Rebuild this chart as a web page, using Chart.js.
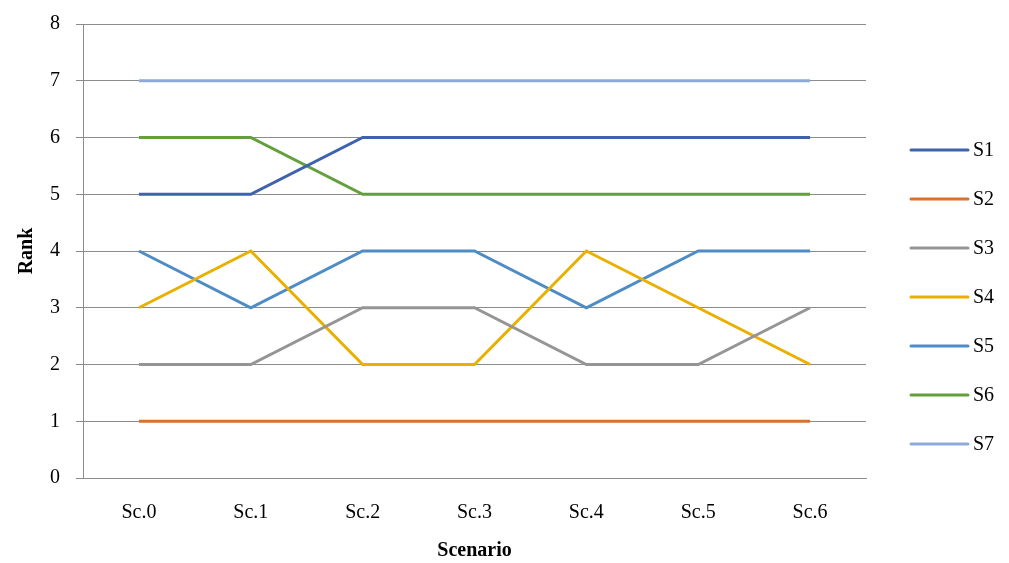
<!DOCTYPE html>
<html>
<head>
<meta charset="utf-8">
<script src="https://cdn.jsdelivr.net/npm/chart.js@4/dist/chart.umd.min.js"></script>
<style>
  html, body { margin: 0; padding: 0; background: #fff; }
  #wrap { width: 1009px; height: 563px; }
</style>
</head>
<body>
<div id="wrap"><canvas id="rankChart" width="1009" height="563"></canvas></div>
<script>
// categories and series
const scenarios = ["Sc.0", "Sc.1", "Sc.2", "Sc.3", "Sc.4", "Sc.5", "Sc.6"];
const s1 = [5, 5, 6, 6, 6, 6, 6];
const s2 = [1, 1, 1, 1, 1, 1, 1];
const s3 = [2, 2, 3, 3, 2, 2, 3];
const s4 = [3, 4, 2, 2, 4, 3, 2];
const s5 = [4, 3, 4, 4, 3, 4, 4];
const s6 = [6, 6, 5, 5, 5, 5, 5];
const s7 = [7, 7, 7, 7, 7, 7, 7];
const seriesNames = ["S1", "S2", "S3", "S4", "S5", "S6", "S7"];
const seriesColors = ["#3d63ad", "#d9702f", "#959595", "#e9b000", "#4e8cc6", "#62a03d", "#8eaadb"];

const fontFamily = "'Liberation Serif', 'DejaVu Serif', serif";
const gridGray = "#8c8c8c";

// simple legend drawn on the right, one row per series
const sideLegend = {
  id: "sideLegend",
  afterDraw(chart) {
    const ctx = chart.ctx;
    ctx.save();
    chart.data.datasets.forEach((ds, i) => {
      const y = 150 + i * 49;
      ctx.strokeStyle = ds.borderColor;
      ctx.lineWidth = 3;
      ctx.lineCap = "round";
      ctx.beginPath();
      ctx.moveTo(911, y);
      ctx.lineTo(968, y);
      ctx.stroke();
      ctx.fillStyle = "#000";
      ctx.font = "20px " + fontFamily;
      ctx.textBaseline = "middle";
      ctx.fillText(ds.label, 973, y + 1);
    });
    ctx.restore();
  }
};

const allData = [s1, s2, s3, s4, s5, s6, s7];

new Chart(document.getElementById("rankChart"), {
  type: "line",
  data: {
    labels: scenarios,
    datasets: allData.map((d, i) => ({
      label: seriesNames[i],
      data: d,
      borderColor: seriesColors[i],
      backgroundColor: seriesColors[i],
      borderWidth: 3,
      pointRadius: 0,
      tension: 0,
      fill: false
    }))
  },
  options: {
    responsive: false,
    animation: false,
    layout: { padding: { top: 0, right: 143, left: 15, bottom: 0 } },
    plugins: {
      legend: { display: false },
      tooltip: { enabled: false }
    },
    scales: {
      x: {
        offset: true,
        grid: { display: false, drawTicks: false },
        border: { display: true, color: gridGray, width: 1 },
        ticks: { color: "#000", padding: 23, font: { family: fontFamily, size: 20 } },
        title: {
          display: true,
          text: "Scenario",
          color: "#000",
          padding: { top: -9, bottom: 0 },
          font: { family: fontFamily, size: 20, weight: "bold" }
        }
      },
      y: {
        min: 0,
        max: 8,
        ticks: { stepSize: 1, color: "#000", padding: 16, font: { family: fontFamily, size: 20, lineHeight: 0.8 } },
        grid: { color: gridGray, lineWidth: 1, tickLength: 7, drawTicks: true },
        border: { display: true, color: gridGray, width: 1 },
        title: {
          display: true,
          text: "Rank",
          color: "#000",
          padding: { top: 0, bottom: -5 },
          font: { family: fontFamily, size: 20, weight: "bold" }
        }
      }
    }
  },
  plugins: [sideLegend]
});
</script>
</body>
</html>
